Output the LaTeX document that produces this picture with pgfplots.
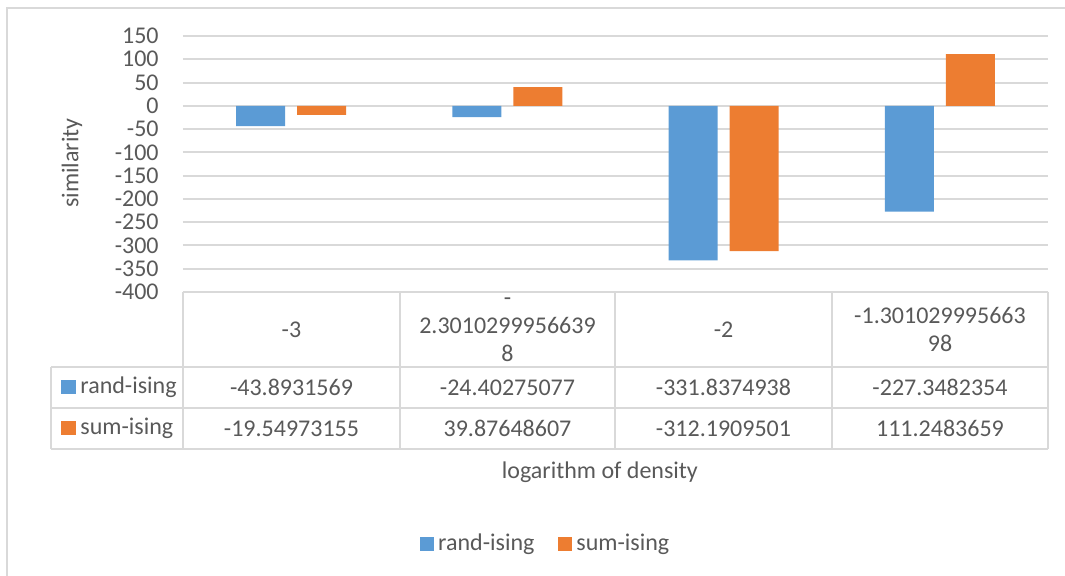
\documentclass[border=0pt]{standalone}
\usepackage{fontspec}
\setmainfont{Carlito}
\usepackage{pgfplots}
\pgfplotsset{compat=1.18}
\definecolor{blu}{RGB}{91,155,213}
\definecolor{ora}{RGB}{237,125,49}
\definecolor{grd}{RGB}{217,217,217}
\definecolor{txt}{RGB}{89,89,89}
\newcommand{\cf}{\fontsize{12}{14}\selectfont}
\begin{document}
\cf
\begin{tikzpicture}[x=0.5pt,y=0.5pt]
\path[use as bounding box] (0,0) rectangle (1065,576);
\draw[grd,line width=1pt] (7,0) -- (7,568) -- (1065,568);
\begin{axis}[at={(91.5pt,142pt)}, anchor=south west,
  width=432.5pt, height=128pt, scale only axis,
  ymin=-400, ymax=150, ytick={-400,-350,...,150},
  yticklabels={-400,-350,-300,-250,-200,-150,-100,-50,0,50,100,150},
  xmin=-0.5, xmax=3.5, xtick=\empty,
  axis line style={draw=none}, ymajorgrids,
  grid style={grd,line width=1pt},
  major tick length=0pt,
  yticklabel style={font=\cf, text=txt, xshift=-8pt},
  ylabel={similarity},
  ylabel style={at={(rel axis cs:-0.1422,0.504)}, anchor=center, yshift=-6pt, font=\cf, text=txt},
  xlabel={logarithm of density},
  xlabel style={at={(rel axis cs:0.482,-0.705)}, anchor=center, font=\cf, text=txt},
  ybar=6pt, bar width=24.5pt,
  legend columns=2,
  legend style={at={(rel axis cs:0.4205,-0.984)}, anchor=center, draw=none,
    font=\cf, text=txt,
    /tikz/every even column/.append style={column sep=10pt}},
  legend image code/.code={\fill[#1] (0pt,-3.5pt) rectangle (7pt,3.5pt);},
]
\addplot[fill=blu, draw=none] coordinates {(0,-43.8931569) (1,-24.40275077) (2,-331.8374938) (3,-227.3482354)};
\addplot[fill=ora, draw=none] coordinates {(0,-19.54973155) (1,39.87648607) (2,-312.1909501) (3,111.2483659)};
\legend{rand-ising, sum-ising}
\end{axis}
% data table
\begin{scope}[grd, line width=1pt]
\draw (183,284) -- (1048,284);
\draw (51,209) -- (1048,209);
\draw (51,168) -- (1048,168);
\draw (51,127) -- (1048,127);
\draw (51,209) -- (51,127);
\foreach \x in {183,400,615,832,1048} \draw (\x,284) -- (\x,127);
\end{scope}
\begin{scope}[every node/.style={text=txt, font=\cf, align=center, inner sep=0pt}]
\node at (291.5,246.5) {-3};
\node at (507.5,246.5) {-\\2.3010299956639\\8};
\node at (723.5,246.5) {-2};
\node at (940,246.5) {-1.301029995663\\98};
\node at (291.5,188.5) {-43.8931569};
\node at (507.5,188.5) {-24.40275077};
\node at (723.5,188.5) {-331.8374938};
\node at (940,188.5) {-227.3482354};
\node at (291.5,147.5) {-19.54973155};
\node at (507.5,147.5) {39.87648607};
\node at (723.5,147.5) {-312.1909501};
\node at (940,147.5) {111.2483659};
\fill[blu] (61,181.5) rectangle (76,195.5);
\fill[ora] (61,140.5) rectangle (76,154.5);
\node[anchor=west] at (80,188.5) {rand-ising};
\node[anchor=west] at (80,147.5) {sum-ising};
\end{scope}
\end{tikzpicture}
\end{document}
